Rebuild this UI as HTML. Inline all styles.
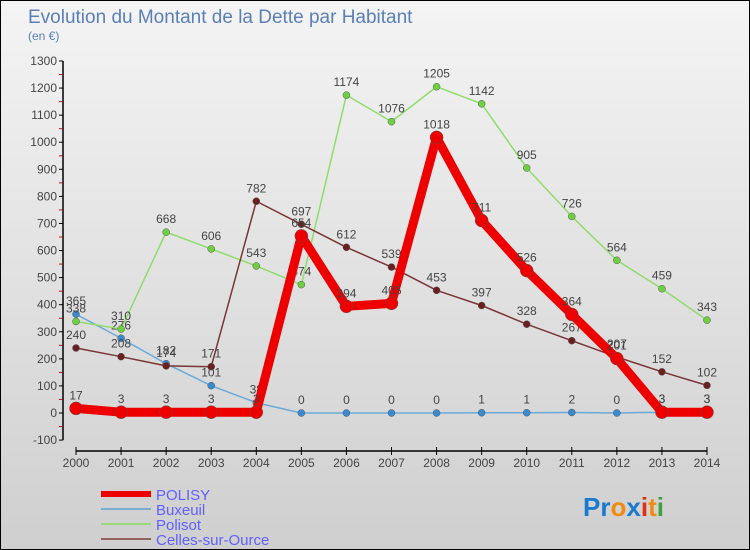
<!DOCTYPE html>
<html><head><meta charset="utf-8"><style>
body{margin:0;}
#wrap{width:750px;height:550px;position:relative;background:linear-gradient(#f4f4f4,#cfcfcf);border:1px solid #000;box-sizing:border-box;font-family:"Liberation Sans",sans-serif;overflow:hidden}
</style></head><body>
<div id="wrap">
<svg id="chart" width="750" height="550"></svg>
</div>
<script>
const years=[2000,2001,2002,2003,2004,2005,2006,2007,2008,2009,2010,2011,2012,2013,2014];
const polisy=[17,3,3,3,3,654,394,405,1018,711,526,364,201,3,3];
const buxeuil=[365,276,182,101,38,0,0,0,0,1,1,2,0,3,3];
const polisot=[338,310,668,606,543,474,1174,1076,1205,1142,905,726,564,459,343];
const celles=[240,208,174,171,782,697,612,539,453,397,328,267,207,152,102];
const yTicks=[-100,0,100,200,300,400,500,600,700,800,900,1000,1100,1200,1300];
const NS="http://www.w3.org/2000/svg";
const svg=document.getElementById('chart');
const x=i=>75+i*(706-75)/14;
const y=v=>412-v*(352/1300);
function el(t,a,p){const e=document.createElementNS(NS,t);for(const k in a)e.setAttribute(k,a[k]);(p||svg).appendChild(e);return e;}
let t=el('text',{x:27,y:22,'font-size':19,fill:'#5a7fb8'});t.textContent='Evolution du Montant de la Dette par Habitant';

t=el('text',{x:27,y:39,'font-size':12,fill:'#5a7fb8'});t.textContent='(en €)';

// axes
let a=el('line',{x1:62,y1:y(1300),x2:62,y2:y(-100),stroke:'#000','stroke-width':1.5});

yTicks.forEach(v=>{el('line',{x1:58,y1:y(v),x2:62,y2:y(v),stroke:'#000'});
 if(v<1300)el('line',{x1:58,y1:y(v+50),x2:61,y2:y(v+50),stroke:'#e00'});
 const l=el('text',{x:56,y:y(v)+4,'text-anchor':'end','font-size':12,fill:'#444'});l.textContent=v;
 });
a=el('line',{x1:75,y1:450,x2:706,y2:450,stroke:'#000','stroke-width':1.5});

years.forEach((yr,i)=>{el('line',{x1:x(i),y1:446,x2:x(i),y2:454,stroke:'#000'});
 const l=el('text',{x:x(i),y:466,'text-anchor':'middle','font-size':12,fill:'#444'});l.textContent=yr;
 });
function series(data,color,w,r,name,dot){
 const g=el('g',{});
 el('polyline',{points:data.map((v,i)=>x(i)+','+y(v)).join(' '),fill:'none',stroke:color,'stroke-width':w,'stroke-linejoin':'round'},g);
 data.forEach((v,i)=>{const c=el('circle',{cx:x(i),cy:y(v),r:r,fill:dot,stroke:'#555','stroke-width':0.5},g);
  
  const l=el('text',{x:x(i),y:y(v)-9,'text-anchor':'middle','font-size':12,fill:'#444'},g);l.textContent=v;
  });
}
series(buxeuil,'#6aaad8',1.5,3.5,'buxeuil','#3a8ad0');
series(polisot,'#8fdc6a',1.5,3.5,'polisot','#6ed040');
series(celles,'#7a3535',1.5,3.5,'celles-sur-ource','#6a2020');
series(polisy,'#ee0000',9,6.5,'polisy','#ee0000');
const leg=[['POLISY','#ee0000',6],['Buxeuil','#7aaed0',2],['Polisot','#9ad87a',2],['Celles-sur-Ource','#956060',2]];
leg.forEach((d,i)=>{const g=el('g',{});
 const yy=493+i*15;el('line',{x1:100,y1:yy,x2:150,y2:yy,stroke:d[1],'stroke-width':d[2]},g);
 const l=el('text',{x:155,y:yy+6,'font-size':15,fill:'#6060ff'},g);l.textContent=d[0];});
const lg=el('text',{x:582,y:515,'font-size':26,'font-weight':'bold',fill:'#1a7ad0'});

[['Pr','#1a7ad0'],['o','#f08a10'],['x','#1a7ad0'],['i','#e03010'],['t','#f08a10'],['i','#40a040']].forEach(p=>{const s=el('tspan',{fill:p[1]},lg);s.textContent=p[0];});
</script>
</body></html>
